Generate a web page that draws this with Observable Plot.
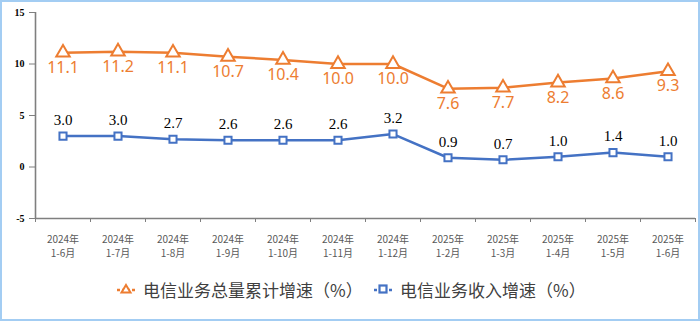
<!DOCTYPE html>
<html>
<head>
<meta charset="utf-8">
<script src="https://cdn.jsdelivr.net/npm/d3@7"></script>
<script src="https://cdn.jsdelivr.net/npm/@observablehq/plot@0.6"></script>
<style>
  html, body { margin: 0; padding: 0; background: #fff; }
  #wrap { position: relative; width: 700px; height: 321px; overflow: hidden; background: #fff; }
  #border { position: absolute; left: 0; top: 0; width: 700px; height: 321px; box-sizing: border-box; border: 2px solid #a3cdf3; pointer-events: none; }
  #legend { position: absolute; left: 0; top: 276px; width: 700px; height: 26px; font-family: "Noto Sans CJK SC", sans-serif; font-size: 17px; color: #404040; }
  .item { position: absolute; top: 0; display: flex; align-items: center; height: 26px; }
  .item svg { margin-right: 8px; }
</style>
</head>
<body>
<div id="wrap">
  <div id="chart"></div>
  <div id="legend"></div>
  <div id="border"></div>
</div>
<script>
const categories = ["2024年\n1-6月","2024年\n1-7月","2024年\n1-8月","2024年\n1-9月","2024年\n1-10月","2024年\n1-11月","2024年\n1-12月","2025年\n1-2月","2025年\n1-3月","2025年\n1-4月","2025年\n1-5月","2025年\n1-6月"];
const totalGrowth = [11.1, 11.2, 11.1, 10.7, 10.4, 10.0, 10.0, 7.6, 7.7, 8.2, 8.6, 9.3];
const revenueGrowth = [3.0, 3.0, 2.7, 2.6, 2.6, 2.6, 3.2, 0.9, 0.7, 1.0, 1.4, 1.0];
const yTicks = [-5, 0, 5, 10, 15];
const seriesNames = ["电信业务总量累计增速（%）", "电信业务收入增速（%）"];

const orange = "#ED7D31";
const blue = "#4472C4";
const axisColor = "#7f7f7f";

const idx = categories.map((_, i) => i);
const total = idx.map(i => ({i, v: totalGrowth[i]}));
const rev = idx.map(i => ({i, v: revenueGrowth[i]}));
const boundaries = d3.range(-0.5, categories.length, 1);

const serif = "'Liberation Serif', 'Times New Roman', 'DejaVu Serif', serif";

const chart = Plot.plot({
  width: 700,
  height: 270,
  marginLeft: 35,
  marginRight: 5,
  marginTop: 12,
  marginBottom: 52,
  style: {fontFamily: serif, background: "transparent"},
  x: {type: "linear", domain: [-0.5, categories.length - 0.5]},
  y: {domain: [-5, 15]},
  marks: [
    Plot.axisY({ticks: yTicks, tickSize: 6, tickPadding: 5, stroke: axisColor, fill: "#000", fontSize: 10, fontWeight: "bold", label: null, tickFormat: d => d}),
    Plot.axisX({ticks: boundaries, tickSize: 4, stroke: axisColor, tickFormat: () => "", label: null}),
    Plot.axisX({ticks: idx, tickSize: 0, tickPadding: 15, tickFormat: i => categories[i], fill: "#595959", fontSize: 10, lineHeight: 1.4, label: null, fontFamily: "'Noto Sans CJK SC', sans-serif"}),
    Plot.ruleX([-0.5], {stroke: axisColor, strokeWidth: 1.6}),
    Plot.ruleY([-5], {stroke: axisColor, strokeWidth: 1.6}),
    Plot.line(total, {x: "i", y: "v", stroke: orange, strokeWidth: 2.5}),
    Plot.line(rev, {x: "i", y: "v", stroke: blue, strokeWidth: 2.5}),
    Plot.dot(total, {x: "i", y: "v", symbol: "triangle", r: 5, stroke: orange, fill: "#fff", strokeWidth: 2}),
    Plot.dot(rev, {x: "i", y: "v", symbol: "square", r: 4, stroke: blue, fill: "#fff", strokeWidth: 2}),
    Plot.text(total, {x: "i", y: "v", text: d => d.v.toFixed(1), dy: 15, fill: orange, fontSize: 16, fontFamily: "'Noto Sans', sans-serif"}),
    Plot.text(rev, {x: "i", y: "v", text: d => d.v.toFixed(1), dy: -16, fill: "#000", fontSize: 15, fontFamily: serif})
  ]
});
document.getElementById("chart").appendChild(chart);

const legend = document.getElementById("legend");
function marker(color, kind) {
  const shape = kind === "triangle"
    ? `<path d="M9,3 L13.5,10.5 L4.5,10.5 Z" fill="#fff" stroke="${color}" stroke-width="2"/>`
    : `<rect x="5.5" y="3.5" width="7" height="7" fill="#fff" stroke="${color}" stroke-width="2.2"/>`;
  return `<svg width="18" height="14" viewBox="0 0 18 14"><line x1="0" y1="8" x2="18" y2="8" stroke="${color}" stroke-width="2.5" stroke-dasharray="3,2"/>${shape}</svg>`;
}
const items = [
  {left: 117, color: orange, kind: "triangle", name: seriesNames[0]},
  {left: 374, color: blue, kind: "square", name: seriesNames[1]}
];
for (const it of items) {
  const div = document.createElement("div");
  div.className = "item";
  div.style.left = it.left + "px";
  div.innerHTML = marker(it.color, it.kind) + `<span>${it.name}</span>`;
  legend.appendChild(div);
}
</script>
</body>
</html>
